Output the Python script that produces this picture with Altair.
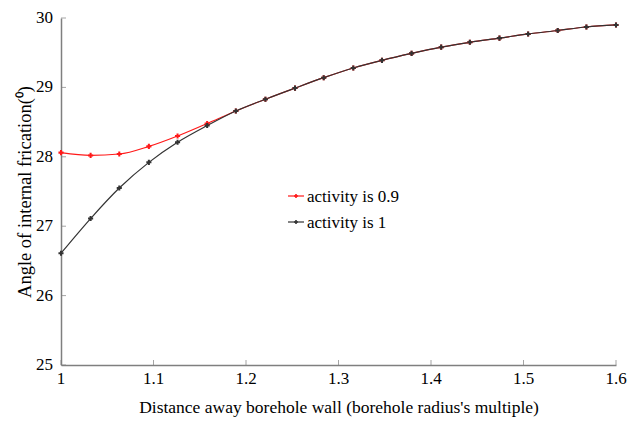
import altair as alt
import pandas as pd

x_vals = [1.000, 1.032, 1.063, 1.095, 1.126, 1.158, 1.189, 1.221, 1.253, 1.284,
          1.316, 1.347, 1.379, 1.411, 1.442, 1.474, 1.505, 1.537, 1.568, 1.600]
red_vals = [28.06, 28.02, 28.04, 28.15, 28.30, 28.48, 28.66, 28.83, 28.99, 29.14,
            29.28, 29.39, 29.49, 29.58, 29.65, 29.71, 29.77, 29.82, 29.87, 29.90]
black_vals = [26.61, 27.11, 27.55, 27.92, 28.21, 28.45, 28.66, 28.83, 28.99, 29.14,
              29.28, 29.39, 29.49, 29.58, 29.65, 29.71, 29.77, 29.82, 29.87, 29.90]
series_names = ["activity is 0.9", "activity is 1"]
series_colors = ["#ff1a1a", "#333333"]
x_ticks = [1.0, 1.1, 1.2, 1.3, 1.4, 1.5, 1.6]
x_tick_labels = ["1", "1.1", "1.2", "1.3", "1.4", "1.5", "1.6"]
y_ticks = [25, 26, 27, 28, 29, 30]
y_tick_labels = ["25", "26", "27", "28", "29", "30"]

rows = []
for name, vals in zip(series_names, [red_vals, black_vals]):
    for xv, yv in zip(x_vals, vals):
        rows.append({"x": xv, "y": yv, "series": name})
df = pd.DataFrame(rows)
one = pd.DataFrame({"a": [0]})

FONT = "Times New Roman"
W, H = 555, 347

xscale = alt.Scale(domain=[1.0, 1.6], nice=False, zero=False)
yscale = alt.Scale(domain=[25, 30], nice=False, zero=False)
cscale = alt.Scale(domain=series_names, range=series_colors)

xaxis = alt.Axis(values=x_ticks, labels=False, title="Distance away borehole wall (borehole radius's multiple)",
                 grid=False, tickSize=0, titlePadding=33, titleFontSize=17.5)
yaxis = alt.Axis(values=y_ticks, labels=False, title="Angle of internal frication(\u2070)",
                 grid=False, tickSize=0, titlePadding=26, titleFontSize=18.5)

base = alt.Chart(df)
lines = base.mark_line(interpolate="monotone", strokeWidth=1.2).encode(
    x=alt.X("x:Q", scale=xscale, axis=xaxis),
    y=alt.Y("y:Q", scale=yscale, axis=yaxis),
    color=alt.Color("series:N", scale=cscale, legend=None),
    order=alt.Order("x:Q"),
)
pts = base.mark_point(shape="cross", filled=True, size=26, opacity=1).encode(
    x=alt.X("x:Q", scale=xscale),
    y=alt.Y("y:Q", scale=yscale),
    color=alt.Color("series:N", scale=alt.Scale(domain=series_names, range=["#ff1a1a", "#222222"]), legend=None),
)

tick_df = pd.DataFrame({"t": x_ticks, "lab": x_tick_labels})
xt = alt.Chart(tick_df).mark_tick(color="#7f7f7f", size=5, thickness=1, orient="vertical").encode(
    x=alt.X("t:Q", scale=xscale), y=alt.value(H - 2.5))
xl = alt.Chart(tick_df).mark_text(font=FONT, fontSize=17, align="center", baseline="top").encode(
    x=alt.X("t:Q", scale=xscale), y=alt.value(H + 6), text="lab:N")
ytick_df = pd.DataFrame({"t": y_ticks, "lab": y_tick_labels})
yt = alt.Chart(ytick_df).mark_tick(color="#7f7f7f", size=5, thickness=1, orient="horizontal").encode(
    y=alt.Y("t:Q", scale=yscale), x=alt.value(2.5))
yl = alt.Chart(ytick_df).mark_text(font=FONT, fontSize=17, align="right", baseline="middle").encode(
    y=alt.Y("t:Q", scale=yscale), x=alt.value(-8), text="lab:N")

# custom legend (one row of data per element)
legend_layers = []
for i, (name, col) in enumerate(zip(series_names, series_colors)):
    ly = 178 + 26 * i
    legend_layers.append(alt.Chart(one).mark_rule(color=col, strokeWidth=1.2).encode(
        x=alt.value(227), x2=alt.value(243), y=alt.value(ly)))
    legend_layers.append(alt.Chart(one).mark_point(shape="cross", filled=True, size=16, color=col, opacity=1).encode(
        x=alt.value(235), y=alt.value(ly)))
    legend_layers.append(alt.Chart(one).mark_text(font=FONT, fontSize=17, align="left", baseline="middle",
                                                  text=name).encode(
        x=alt.value(246), y=alt.value(ly + 1)))

chart = alt.layer(lines, pts, xt, yt, xl, yl, *legend_layers).properties(
    width=W, height=H,
    autosize=alt.AutoSizeParams(type="none"),
    padding={"left": 53, "top": 10, "right": 13, "bottom": 53},
).configure_view(stroke=None).configure_axis(
    titleFont=FONT, titleFontWeight="normal", titleColor="black",
    domainColor="#7f7f7f", domainWidth=1.5,
)

chart.save("out.html", embed_options={"renderer": "svg", "actions": False})
